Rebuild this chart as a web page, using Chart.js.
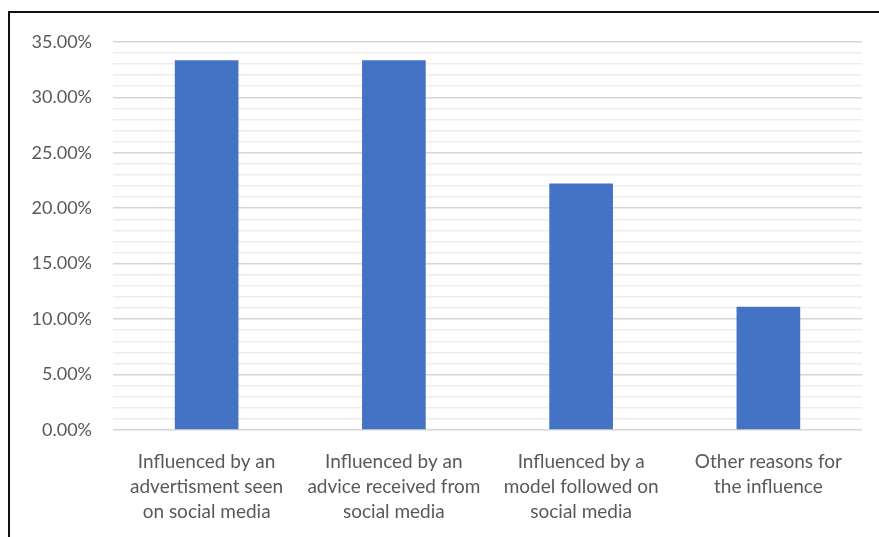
<!DOCTYPE html>
<html>
<head>
<meta charset="utf-8">
<script src="https://cdn.jsdelivr.net/npm/chart.js@4.4.1/dist/chart.umd.min.js"></script>
<style>
  html, body { margin: 0; padding: 0; background: #ffffff; }
  body { width: 879px; height: 537px; overflow: hidden; position: relative; }
  #frame {
    position: absolute; left: 8px; top: 11px; width: 869px; height: 526px;
    border-top: 2px solid #111; border-left: 2px solid #111;
    border-right: 1px solid #e6e6e6;
    background: #ffffff;
  }
  #wrap { position: absolute; left: 0; top: -3px; width: 869px; height: 529px; }
</style>
</head>
<body>
<div id="frame"><div id="wrap"><canvas id="chart"></canvas></div></div>
<script>
// Categories (each label split into its display lines)
const categories = [
  ["Influenced by an", "advertisment seen", "on social media"],
  ["Influenced by an", "advice received from", "social media"],
  ["Influenced by a", "model followed on", "social media"],
  ["Other reasons for", "the influence"]
];
// Share of respondents, in percent
const shares = [33.33, 33.33, 22.22, 11.11];
// Axis range and label step
const yMin = 0;
const yMax = 35;
const majorStep = 5;
const minorStep = 1;

const textColor = '#595959';
const fontFamily = 'Lato, "Open Sans", sans-serif';

new Chart(document.getElementById('chart'), {
  type: 'bar',
  data: {
    labels: categories,
    datasets: [{
      data: shares,
      backgroundColor: '#4472C4',
      borderWidth: 0,
      barPercentage: 0.34,
      categoryPercentage: 1.0
    }]
  },
  options: {
    responsive: true,
    maintainAspectRatio: false,
    animation: false,
    layout: { padding: { top: 31, right: 17, bottom: 0, left: 0 } },
    plugins: { legend: { display: false }, tooltip: { enabled: false } },
    scales: {
      x: {
        grid: { display: false },
        border: { display: false },
        ticks: {
          color: textColor,
          font: { family: fontFamily, size: 19, lineHeight: 1.32 },
          padding: 11,
          maxRotation: 0,
          autoSkip: false
        },
        afterFit(scale) { scale.height = 109; }
      },
      y: {
        min: yMin,
        max: yMax,
        border: { display: false },
        grid: {
          drawTicks: false,
          lineWidth: 1.5,
          color(ctx) {
            const v = ctx.tick ? ctx.tick.value : 0;
            return Math.abs(v % majorStep) < 1e-6 ? '#d6d6d6' : '#ededed';
          }
        },
        ticks: {
          stepSize: minorStep,
          autoSkip: false,
          color: textColor,
          font: { family: fontFamily, size: 18 },
          padding: 21,
          callback(value) {
            return Math.abs(value % majorStep) < 1e-6 ? value.toFixed(2) + '%' : '';
          }
        },
        afterFit(scale) { scale.width = 103; }
      }
    }
  }
});
</script>
</body>
</html>
